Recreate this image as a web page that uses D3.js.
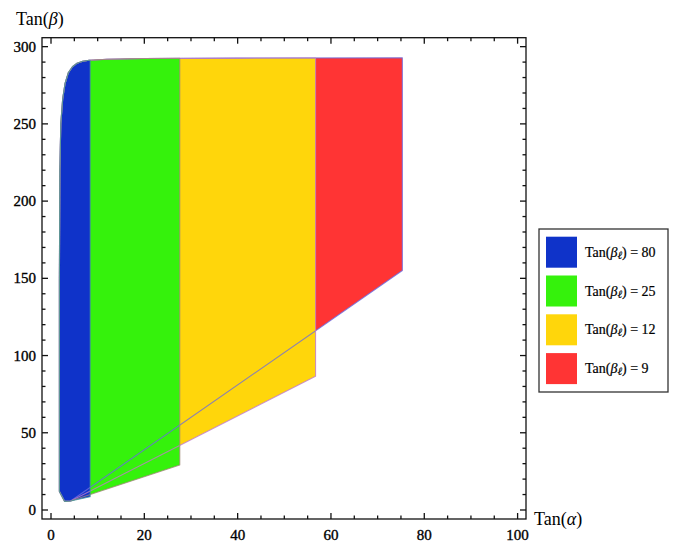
<!DOCTYPE html>
<html><head><meta charset="utf-8">
<script src="https://cdn.jsdelivr.net/npm/d3@7/dist/d3.min.js"></script>
<style>body{margin:0;background:#fff}svg{display:block}text{font-family:"Liberation Serif","Times New Roman",serif;fill:#000}</style>
</head><body><svg id="c" width="679" height="545"></svg>
<script>
// ---- data ----
const seriesLabels = ["80", "25", "12", "9"];
const seriesColors = ["#0f33c9", "#35f20c", "#ffd60b", "#ff3434"];
const outlineColors = ["#4a9a9a", "#a08a78", "#c07cc8", "#6a6ae0"];
const rightX = [8.4, 27.6, 56.7, 75.3];       // right vertical edge (Tan α)
const rightBottomY = [8.6, 29.1, 86.6, 155.1]; // lower corner of right edge (Tan β)
// shared left / top boundary (Tan α, Tan β)
const boundX = [1.8, 1.8, 1.9, 2.1, 2.5, 3.0, 3.7, 4.6, 5.6, 6.8, 8.2, 12, 20, 40, 80];
const boundY = [12, 150, 220, 250, 266, 276, 283, 287, 289.3, 290.5, 291.2, 291.8, 292.3, 292.6, 292.8];
const startPt = [2.9, 5.6];
const pivotPt = [4.2, 5.8];
const xTicksMajor = [0, 20, 40, 60, 80, 100];
const yTicksMajor = [0, 50, 100, 150, 200, 250, 300];

// ---- layout ----
const svg = d3.select("#c");
const L = 42, R = 526, T = 37.7, B = 519;
const x = d3.scaleLinear().domain([-1.93, 101.8]).range([L, R]);
const y = d3.scaleLinear().domain([-5.83, 305.8]).range([B, T]);

function topYAt(xv) {
  for (let i = 1; i < boundX.length; i++) {
    if (xv <= boundX[i]) {
      const t = (xv - boundX[i-1]) / (boundX[i] - boundX[i-1]);
      return boundY[i-1] + t * (boundY[i] - boundY[i-1]);
    }
  }
  return boundY[boundY.length - 1];
}
function polyFor(i) {
  const pts = [startPt];
  for (let k = 0; k < boundX.length; k++) if (boundX[k] < rightX[i]) pts.push([boundX[k], boundY[k]]);
  pts.push([rightX[i], topYAt(rightX[i])]);
  pts.push([rightX[i], rightBottomY[i]]);
  pts.push(pivotPt);
  return pts;
}
const line = d3.line().x(d => x(d[0])).y(d => y(d[1]));
const order = [3, 2, 1, 0];
const gPlot = svg.append("g");
order.forEach(i => {
  gPlot.append("path").attr("d", line(polyFor(i)) + "Z").attr("fill", seriesColors[i]).attr("stroke", "none");
});
order.forEach(i => {
  gPlot.append("path").attr("d", line(polyFor(i)) + "Z").attr("fill", "none")
    .attr("stroke", outlineColors[i]).attr("stroke-width", 1.1).attr("stroke-opacity", 0.8).attr("stroke-linejoin", "round");
});

// ---- frame & ticks ----
const fg = svg.append("g").attr("stroke", "#111").attr("stroke-width", 1.3);
fg.append("rect").attr("x", L).attr("y", T).attr("width", R - L).attr("height", B - T).attr("fill", "none");
const xMinor = d3.range(0, 101, 5);
const yMinor = d3.range(0, 301, 10);
xMinor.forEach(v => {
  const len = xTicksMajor.includes(v) ? 6 : 3.5;
  fg.append("line").attr("x1", x(v)).attr("x2", x(v)).attr("y1", B).attr("y2", B - len);
  fg.append("line").attr("x1", x(v)).attr("x2", x(v)).attr("y1", T).attr("y2", T + len);
});
yMinor.forEach(v => {
  const len = yTicksMajor.includes(v) ? 6 : 3.5;
  fg.append("line").attr("y1", y(v)).attr("y2", y(v)).attr("x1", L).attr("x2", L + len);
  fg.append("line").attr("y1", y(v)).attr("y2", y(v)).attr("x1", R).attr("x2", R - len);
});
svg.append("g").selectAll("text").data(xTicksMajor).join("text")
  .attr("x", d => x(d)).attr("y", 540).attr("text-anchor", "middle").attr("font-size", 15)
  .attr("stroke", "#000").attr("stroke-width", 0.35).text(d => d);
svg.append("g").selectAll("text").data(yTicksMajor).join("text")
  .attr("x", 36).attr("y", d => y(d) + 5).attr("text-anchor", "end").attr("font-size", 15)
  .attr("stroke", "#000").attr("stroke-width", 0.35).text(d => d);

// axis labels
const yl = svg.append("text").attr("x", 16).attr("y", 25).attr("font-size", 18);
yl.append("tspan").text("Tan(");
yl.append("tspan").attr("font-style", "italic").text("β");
yl.append("tspan").text(")");
const xl = svg.append("text").attr("x", 534).attr("y", 525).attr("font-size", 18);
xl.append("tspan").text("Tan(");
xl.append("tspan").attr("font-style", "italic").text("α");
xl.append("tspan").text(")");

// ---- legend ----
const lg = svg.append("g");
lg.append("rect").attr("x", 539).attr("y", 229).attr("width", 129).attr("height", 163)
  .attr("fill", "#fff").attr("stroke", "#333").attr("stroke-width", 1.3);
seriesLabels.forEach((lab, i) => {
  const yy = 236.7 + i * 38.8;
  lg.append("rect").attr("x", 546).attr("y", yy).attr("width", 31).attr("height", 31).attr("fill", seriesColors[i]);
  const t = lg.append("text").attr("x", 585).attr("y", yy + 20).attr("font-size", 14)
    .attr("stroke", "#000").attr("stroke-width", 0.2);
  t.append("tspan").text("Tan(");
  t.append("tspan").attr("font-style", "italic").text("β");
  t.append("tspan").attr("font-style", "italic").attr("font-size", 11).attr("dy", 2).text("ℓ");
  t.append("tspan").attr("dy", -2).text(") = " + lab);
});
</script></body></html>
